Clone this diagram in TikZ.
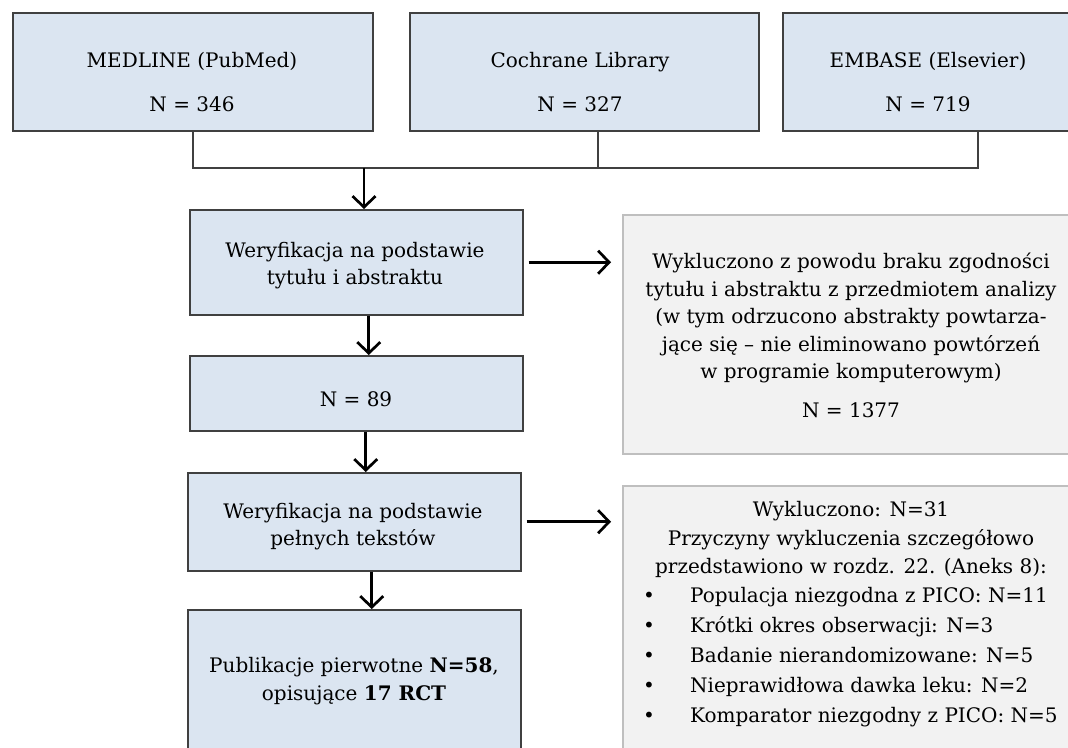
\documentclass[tikz,border=0pt]{standalone}
\usepackage{fontspec}
\setmainfont{DejaVu Serif}
\usetikzlibrary{arrows.meta}
\definecolor{boxblue}{HTML}{DBE5F1}
\definecolor{boxline}{HTML}{404040}
\definecolor{graybg}{HTML}{F2F2F2}
\definecolor{grayline}{HTML}{BFBFBF}
\begin{document}
\begin{tikzpicture}[x=1pt,y=-1pt,
  bluebox/.style={draw=boxline, fill=boxblue, line width=1.5pt, inner sep=0pt, anchor=north west},
  graybox/.style={draw=grayline, fill=graybg, line width=2pt, inner sep=0pt, anchor=north west},
  txt/.style={inner sep=0pt, align=center, font=\fontsize{20}{27.5}\selectfont},
  link/.style={draw=boxline, line width=1.5pt},
  flow/.style={draw=black, line width=2.7pt, -{Straight Barb[length=11pt,width=23pt,line width=2.7pt]}}
]
\useasboundingbox (0,0) rectangle (1068,747);
\clip (0,0) rectangle (1068,747);
% boxes
\node[bluebox, minimum width=360pt, minimum height=118pt] (med) at (12,12) {};
\node[bluebox, minimum width=349pt, minimum height=118pt] (coch) at (409,12) {};
\node[bluebox, minimum width=400pt, minimum height=118pt] (emb) at (782,12) {};
\node[bluebox, minimum width=333pt, minimum height=105pt] (b1) at (189,209) {};
\node[bluebox, minimum width=333pt, minimum height=75pt] (b2) at (189,355) {};
\node[bluebox, minimum width=333pt, minimum height=98pt] (b3) at (187,472) {};
\node[bluebox, minimum width=333pt, minimum height=200pt] (b4) at (187,609) {};
\node[graybox, minimum width=458pt, minimum height=239pt] (g1) at (622,214) {};
\node[graybox, minimum width=458pt, minimum height=300pt] (g2) at (622,485) {};
% texts
\node[txt] (medt) at (192,82) {MEDLINE (PubMed)\\[16.5pt]N = 346};
\node[txt] (locht) at (580,82) {Cochrane Library\\[16.5pt]N = 327};
\node[txt] (embt) at (928,82) {EMBASE (Elsevier)\\[16.5pt]N = 719};
\node[txt] (b1t) at (355,265.5) {Weryfikacja na podstawie\\tytułu i abstraktu};
\node[txt] (b2t) at (356,399) {N = 89};
\node[txt] (b3t) at (353,526.5) {Weryfikacja na podstawie\\pełnych tekstów};
\node[txt] (b4t) at (354,681) {Publikacje pierwotne \textbf{N=58},\\opisujące \textbf{17 RCT}};
\node[txt] (g1t) at (851,335.5) {Wykluczono z powodu braku zgodności\\tytułu i abstraktu z przedmiotem analizy\\(w tym odrzucono abstrakty powtarza-\\jące się – nie eliminowano powtórzeń\\w programie komputerowym)\\[11.5pt]N = 1377};
\node[txt, font=\fontsize{20}{28.5}\selectfont] (g2t) at (851,539.5) {Wykluczono: N=31\\Przyczyny wykluczenia szczegółowo\\przedstawiono w rozdz. 22. (Aneks 8):};
\node[txt, align=left, anchor=west, font=\fontsize{20}{30}\selectfont] (g2l) at (643,657) {%
\makebox[47pt][l]{•}Populacja niezgodna z PICO: N=11\\
\makebox[47pt][l]{•}Krótki okres obserwacji: N=3\\
\makebox[47pt][l]{•}Badanie nierandomizowane: N=5\\
\makebox[47pt][l]{•}Nieprawidłowa dawka leku: N=2\\
\makebox[47pt][l]{•}Komparator niezgodny z PICO: N=5};
% connectors
\coordinate (jc) at (598,168);
\coordinate (je) at (978,168);
\coordinate (ja) at (364,168);
\draw[link] (med.south) |- (je) -- (je |- emb.south);
\draw[link] (coch.south -| jc) -- (jc);
\draw[flow] (ja) -- (ja |- b1.north);
\draw[flow] ([xshift=12.5pt]b1.south) -- ([xshift=12.5pt]b1.south |- b2.north);
\draw[flow] ([xshift=9.5pt]b2.south) -- ([xshift=9.5pt]b2.south |- b3.north);
\draw[flow] ([xshift=17.5pt]b3.south) -- ([xshift=17.5pt]b3.south |- b4.north);
\draw[flow] ([xshift=5pt]b1.east) -- ([xshift=-11pt]b1.east -| g1.west);
\draw[flow] ([xshift=5pt]b3.east) -- ([xshift=-11pt]b3.east -| g2.west);
\end{tikzpicture}
\end{document}
